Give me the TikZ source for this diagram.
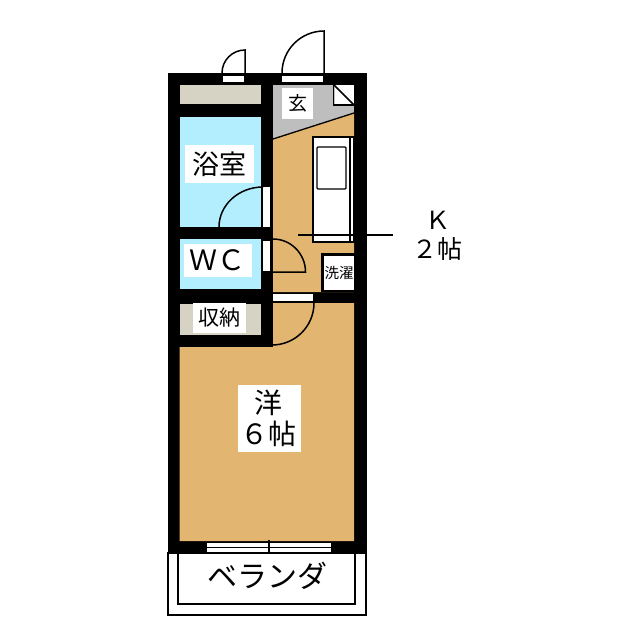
\documentclass[tikz,border=0pt]{standalone}
\usepackage{fontspec}
\setmainfont{Noto Sans CJK JP}
\definecolor{floorc}{RGB}{226,181,112}
\definecolor{bathc}{RGB}{178,238,253}
\definecolor{closetc}{RGB}{214,210,196}
\definecolor{entryc}{RGB}{190,190,190}
\tikzset{
  lbl/.style={fill=white,inner sep=0pt,align=center,font=\fontsize{27}{30}\selectfont},
  thin line/.style={line width=1.5pt,draw=black},
  jamb/.style={fill=white,draw=none},
}
\begin{document}
\begin{tikzpicture}[x=1pt,y=-1pt]
\useasboundingbox (0,0) rectangle (640,640);
\fill[white] (0,0) rectangle (640,640);
% balcony
\draw[thin line,fill=white] (168,553) rectangle (366,615);
\draw[thin line] (178,553) rectangle (355,604);
% walls
\fill[black] (167.5,73) rectangle (367,553);
% rooms
\fill[closetc] (179.5,85) rectangle (260.5,104);
\fill[bathc] (179.5,117) rectangle (260.5,227);
\fill[bathc] (179.5,239) rectangle (260.5,289);
\fill[closetc] (179.5,304) rectangle (260.5,335);
\fill[entryc] (273,85) rectangle (354,139);
\fill[floorc] (273,139) -- (354,113) -- (354,292) -- (273,292) -- cycle;
\fill[floorc] (273,303) -- (354,303) -- (354,541) -- (179.5,541) -- (179.5,347) -- (273,347) -- cycle;
\draw[line width=1.3pt] (273,139) -- (354,113);
% shoe cabinet
\fill[white] (335,85) rectangle (354,104);
\draw[thin line] (334,85) -- (354,105);
\draw[thin line] (354,105) -- (333.5,105) -- (333.5,85);
% kitchen counter
\draw[thin line,fill=white] (313,137) rectangle (354,242);
\draw[thin line] (350,137) -- (350,242);
\draw[line width=1.3pt,rounded corners=1pt] (317,147) rectangle (346,189);
% entrance doors
\fill[jamb] (282,76) rectangle (323,82);
\draw[thin line] (282,73) arc[start angle=180,end angle=270,radius=42] -- (324,73);
\fill[jamb] (223,76) rectangle (244,82);
\draw[thin line] (222,73) arc[start angle=180,end angle=270,radius=23] -- (245,73);
% bath door
\fill[jamb] (263,187) rectangle (270,227);
\draw[thin line] (219,227) arc[start angle=180,end angle=270,x radius=44,y radius=40];
% WC door
\fill[jamb] (263,241) rectangle (270,271);
\draw[thin line] (273,239) arc[start angle=-90,end angle=0,x radius=32.5,y radius=33] -- (273,272);
% room door
\fill[jamb] (273,294) rectangle (313,301);
\draw[thin line] (314,303) arc[start angle=0,end angle=90,radius=42];
% window
\fill[white] (207,543) rectangle (331,552);
\draw[line width=1pt] (207,547.5) -- (331,547.5);
\draw[line width=1.3pt] (269,540) -- (269,553);
% K pointer
\coordinate (kfrom) at (298,235);
\coordinate (kto) at (393,235);
\draw[line width=1.3pt] (kfrom) -- (kto);
% washer
\fill[black] (320.5,253) rectangle (356,292);
\fill[white] (323.5,255.5) rectangle (354,290);
% labels
\node[lbl,minimum width=69pt,minimum height=38pt] (bath) at (219.5,164) {浴室};
\node[lbl,minimum width=68pt,minimum height=33pt,font=\fontsize{28}{30}\selectfont] (wc) at (217.5,260.5) {ＷＣ};
\node[lbl,minimum width=31pt,minimum height=31pt,font=\fontsize{19}{21}\selectfont] (entry) at (297.5,103.5) {玄};
\node[lbl,minimum width=53pt,minimum height=30pt,font=\fontsize{21}{23}\selectfont] (store) at (219.5,318) {収納};
\node[inner sep=0pt,font=\fontsize{14.5}{16}\selectfont] (wash) at (339,273) {洗濯};
\node[fill=white,minimum width=63pt,minimum height=67pt] (roombox) at (269.5,418.5) {};
\node[inner sep=0pt,align=center,font=\fontsize{28}{31}\selectfont] (room) at (268,418.5) {洋\\６帖};
\node[inner sep=0pt,align=center,font=\fontsize{25}{29}\selectfont] (kitchen) at (437.5,235.5) {Ｋ\\２帖};
\node[inner sep=0pt,font=\fontsize{30}{32}\selectfont] (veranda) at (267,576) {ベランダ};
\end{tikzpicture}
\end{document}
